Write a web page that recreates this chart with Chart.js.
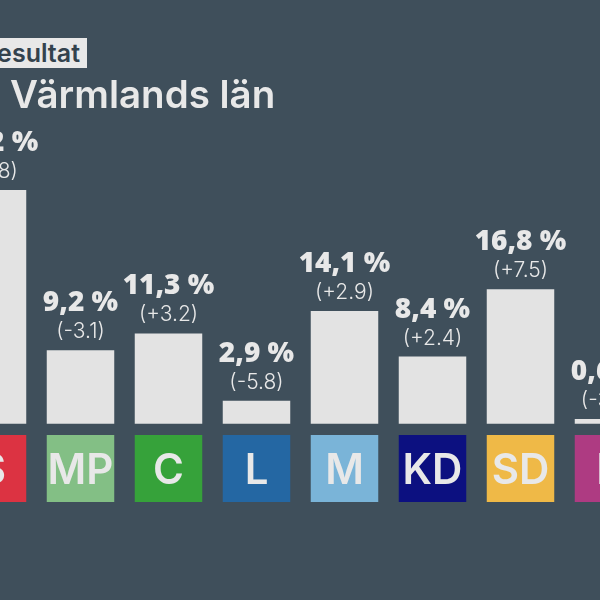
<!DOCTYPE html>
<html lang="sv">
<head>
<meta charset="utf-8">
<title>Värmlands län</title>
<script src="https://cdn.jsdelivr.net/npm/chart.js@4"></script>
<style>
  html, body { margin: 0; width: 600px; height: 600px; overflow: hidden; background: #3f4f5b; }
  #wrap { position: relative; width: 600px; height: 600px; overflow: hidden; }
  #partyChart { position: absolute; left: -60px; top: 0; }
  #tag { position: absolute; right: 513px; top: 38px; height: 30px; padding: 0 7px 0 0; background: #e8e8e8; color: #33424d; font: 600 25px/30px "Inter", sans-serif; white-space: nowrap; }
  #heading { position: absolute; left: 10px; top: 69px; color: #e8e8e8; font: 600 38.5px/50px "Inter", sans-serif; white-space: nowrap; }
</style>
</head>
<body>
<div id="wrap">
  <canvas id="partyChart" width="720" height="600"></canvas>
  <div id="tag">Valresultat</div>
  <div id="heading">Värmlands län</div>
</div>
<script>
const parties = ['S', 'MP', 'C', 'L', 'M', 'KD', 'SD', 'F'];
const shares = [29.2, 9.2, 11.3, 2.9, 14.1, 8.4, 16.8, 0.6];
const shareLabels = ['29,2 %', '9,2 %', '11,3 %', '2,9 %', '14,1 %', '8,4 %', '16,8 %', '0,6 %'];
const changes = ['(-1.8)', '(-3.1)', '(+3.2)', '(-5.8)', '(+2.9)', '(+2.4)', '(+7.5)', '(-3.4)'];
const partyColors = ['#dc3342', '#83bf85', '#36a23a', '#2467a3', '#7ab4d8', '#0c1080', '#efb947', '#ae3b82'];

// Labels above the bars and party letters inside the tiles
const labelPlugin = {
    id: 'labelPlugin',
    afterDatasetsDraw(chart) {
        const c = chart.ctx;
        const barMeta = chart.getDatasetMeta(0);
        const tileMeta = chart.getDatasetMeta(1);
        c.save();
        c.textAlign = 'center';
        c.textBaseline = 'alphabetic';
        c.fillStyle = '#e8e8e8';
        barMeta.data.forEach((bar, i) => {
            const tile = tileMeta.data[i];
            c.font = '800 28px "Open Sans"';
            c.fillText(shareLabels[i], bar.x, bar.y - 39);
            c.font = '300 21px Inter';
            c.fillText(changes[i], bar.x, bar.y - 12);
            c.font = '600 42px Inter';
            c.fillText(parties[i], bar.x, Math.min(tile.y, tile.base) + 48.5);
        });
        c.restore();
    }
};

new Chart(document.getElementById('partyChart').getContext('2d'), {
    type: 'bar',
    data: {
        labels: parties,
        datasets: [
            { data: shares, backgroundColor: '#e3e3e3' },
            { data: parties.map(() => [-9.775, -1.4]), backgroundColor: partyColors }
        ]
    },
    plugins: [labelPlugin],
    options: {
        responsive: false,
        animation: false,
        devicePixelRatio: 1,
        layout: { padding: { left: 8.5, right: 7.5, top: 0, bottom: 0 } },
        datasets: { bar: { grouped: false, categoryPercentage: 1, barPercentage: 0.767 } },
        plugins: { legend: { display: false }, tooltip: { enabled: false } },
        scales: {
            x: { display: false },
            y: { display: false, min: -22, max: 52.9375 }
        }
    }
});
</script>
</body>
</html>
